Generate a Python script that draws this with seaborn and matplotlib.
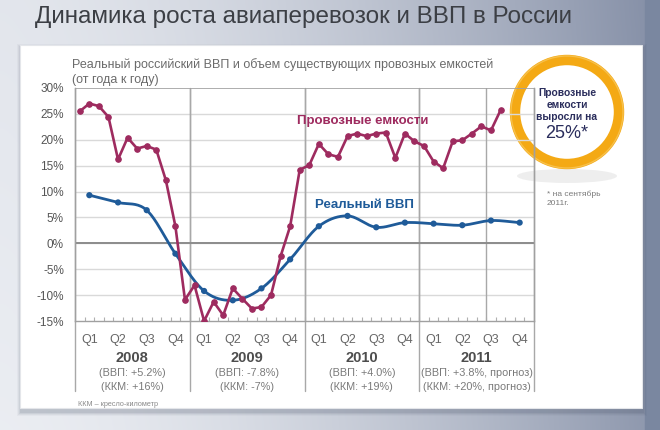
import numpy as np
import pandas as pd
import matplotlib
matplotlib.use("Agg")
import matplotlib.pyplot as plt
import seaborn as sns
from matplotlib.patches import Rectangle, Circle, Ellipse

# ---------------- data ----------------
years = ["2008", "2009", "2010", "2011"]
quarters = ["Q1", "Q2", "Q3", "Q4"]
gdp_notes = ["(ВВП: +5.2%)", "(ВВП: -7.8%)", "(ВВП: +4.0%)", "(ВВП: +3.8%, прогноз)"]
kkm_notes = ["(ККМ: +16%)", "(ККМ: -7%)", "(ККМ: +19%)", "(ККМ: +20%, прогноз)"]

# monthly capacity growth, Jan 2008 .. Sep 2011 (%)
capacity = [25.5, 27.0, 26.5, 24.4, 16.2, 20.4, 18.3, 18.8, 18.1, 12.2, 3.3, -10.9,
            -8.1, -15.0, -11.3, -13.9, -8.7, -10.7, -12.6, -12.3, -10.0, -2.5, 3.3, 14.2,
            15.1, 19.2, 17.2, 16.7, 20.7, 21.2, 20.7, 21.2, 21.4, 16.5, 21.2, 19.7,
            18.8, 15.8, 14.5, 19.7, 19.9, 21.2, 22.6, 21.8, 25.7]
# quarterly real GDP growth, 2008Q1 .. 2011Q4 (%)
gdp = [9.3, 7.9, 6.4, -2.0,
       -9.2, -11.0, -8.7, -3.1,
       3.3, 5.3, 3.1, 4.0,
       3.8, 3.5, 4.4, 4.0]

cap_label = "Провозные емкости"
gdp_label = "Реальный ВВП"
title = "Динамика роста авиаперевозок и ВВП в России"
subtitle = "Реальный российский ВВП и объем существующих провозных емкостей\n(от года к году)"
callout = "Провозные\nемкости\nвыросли на"
callout_big = "25%*"
callout_note = "* на сентябрь\n2011г."
footnote = "ККМ – кресло-километр"

PURPLE = "#9e2b5f"
BLUE = "#1f5b99"

# ---------------- helpers ----------------
def catmull_rom(x, y, n=20):
    x = np.asarray(x, float); y = np.asarray(y, float)
    px = np.concatenate([[2 * x[0] - x[1]], x, [2 * x[-1] - x[-2]]])
    py = np.concatenate([[2 * y[0] - y[1]], y, [2 * y[-1] - y[-2]]])
    xs, ys = [], []
    t = np.linspace(0, 1, n, endpoint=False)
    for i in range(1, len(px) - 2):
        p0, p1, p2, p3 = (np.array([px[j], py[j]]) for j in range(i - 1, i + 3))
        for tt in t:
            pt = 0.5 * ((2 * p1) + (-p0 + p2) * tt + (2 * p0 - 5 * p1 + 4 * p2 - p3) * tt ** 2
                        + (-p0 + 3 * p1 - 3 * p2 + p3) * tt ** 3)
            xs.append(pt[0]); ys.append(pt[1])
    xs.append(x[-1]); ys.append(y[-1])
    return np.array(xs), np.array(ys)

# ---------------- figure ----------------
sns.set_theme(style="white")
plt.rcParams["font.family"] = ["Liberation Sans", "DejaVu Sans"]

W, H = 660, 430
fig = plt.figure(figsize=(6.6, 4.3), dpi=100)

# background gradient
bg = fig.add_axes([0, 0, 1, 1], zorder=-10)
gx = np.linspace(0, 1, 300)
gy = np.linspace(0, 1, 200)
GX, GY = np.meshgrid(gx, gy)
c0 = np.array([0.92, 0.93, 0.95])
c1 = np.array([0.53, 0.57, 0.66])
tmix = np.clip(GX ** 1.6 * 0.95 + GY * 0.08, 0, 1)[..., None]
img = c0 * (1 - tmix) + c1 * tmix
bg.imshow(img, extent=[0, W, 0, H], aspect="auto", origin="upper")
bg.set_xlim(0, W); bg.set_ylim(H, 0)
bg.axis("off")

# right dark strip
bg.add_patch(Rectangle((645, 0), 15, H, color="#7a87a0", zorder=1))

# white panel with shadow
for k, a in enumerate([0.10, 0.08, 0.06, 0.04]):
    bg.add_patch(Rectangle((20 - k, 45 + 2 - k), 622 + 2 * k + 2, 363 + 2 * k + 3,
                           facecolor="#404a60", alpha=a, edgecolor="none", zorder=2))
bg.add_patch(Rectangle((20, 45), 622, 363, facecolor="white", edgecolor="#e4e6ea", lw=0.8, zorder=3))

# title
bg.text(35, 17, title, fontsize=17.5, color="#3c3f45", va="center", ha="left", zorder=5)

# subtitle
bg.text(72, 72, subtitle, fontsize=9.0, color="#6b6b6b", va="center", ha="left",
        linespacing=1.25, zorder=5)

# footnote
bg.text(78, 404, footnote, fontsize=5.2, color="#8a8a8a", va="center", ha="left", zorder=5)

# callout circle
bg.add_patch(Ellipse((567, 176), 100, 14, facecolor="#9a9a9a", alpha=0.16, edgecolor="none", zorder=4))
bg.add_patch(Circle((567, 112), 52, facecolor="white", edgecolor="#f4a914", lw=7.5, zorder=5))
bg.add_patch(Circle((567, 112), 56, facecolor="none", edgecolor="#f7c04a", lw=1.0, zorder=5))
bg.text(567, 105, callout, fontsize=7.4, color="#2a2d5c", ha="center", va="center",
        linespacing=1.28, fontweight="bold", zorder=6)
bg.text(567, 134, callout_big, fontsize=13, color="#2a2d5c", ha="center", va="center", zorder=6)
bg.text(547, 199, callout_note, fontsize=6.0, color="#7a7a7a", ha="left", va="center",
        linespacing=1.3, zorder=6)

# ---------------- main axes ----------------
left, right, top, bottom = 75, 534, 88, 321
ax = fig.add_axes([left / W, 1 - bottom / H, (right - left) / W, (bottom - top) / H], zorder=5)
ax.set_facecolor("none")

months_x = np.arange(len(capacity)) + 0.5
df_cap = pd.DataFrame({"x": months_x, "v": capacity})
gdp_x = np.arange(len(gdp)) * 3 + 1.5
df_gdp = pd.DataFrame({"x": gdp_x, "v": gdp})
sx, sy = catmull_rom(gdp_x, gdp)
df_gdp_s = pd.DataFrame({"x": sx, "v": sy})

ax.set_xlim(0, 48)
ax.set_ylim(-15, 30)

# grid
for v in range(-10, 30, 5):
    ax.axhline(v, color="#d9d9d9", lw=1.0, zorder=1)
ax.axhline(0, color="#8c8c8c", lw=1.4, zorder=2)
ax.axhline(30, color="#a0a0a0", lw=1.2, zorder=2)
for xv in [12, 24, 36, 43]:
    ax.axvline(xv, color="#a8a8a8", lw=1.0, zorder=1)

# vertical separators extending below
trans = ax.get_xaxis_transform()
for xv in [0, 12, 24, 36, 48]:
    ax.plot([xv, xv], [-0.30, 1.0], transform=trans, color="#a8a8a8", lw=1.0,
            clip_on=False, zorder=1)

sns.lineplot(data=df_gdp_s, x="x", y="v", ax=ax, color=BLUE, lw=2.0, zorder=4,
             estimator=None, sort=False)
sns.scatterplot(data=df_gdp, x="x", y="v", ax=ax, color=BLUE, s=20, edgecolor="none", zorder=5)
sns.lineplot(data=df_cap, x="x", y="v", ax=ax, color=PURPLE, lw=1.9, marker="o",
             markersize=4, markeredgecolor=PURPLE, zorder=6, estimator=None)

ax.text(30.1, 23.6, cap_label, color=PURPLE, fontsize=9.5, fontweight="bold",
        ha="center", va="center", zorder=7)
ax.text(30.3, 7.4, gdp_label, color=BLUE, fontsize=9.5, fontweight="bold",
        ha="center", va="center", zorder=7)

# axes styling
ax.spines["top"].set_visible(False)
for s in ["left", "right", "bottom"]:
    ax.spines[s].set_color("#a0a0a0")
    ax.spines[s].set_linewidth(1.0)
ax.set_xlabel(""); ax.set_ylabel("")

yt = list(range(-15, 31, 5))
ax.set_yticks(yt)
ax.set_yticklabels([f"{v}%" for v in yt], fontsize=8.5, color="#555555")
ax.tick_params(axis="y", length=0, pad=8)

qx = [i * 3 + 1.5 for i in range(16)]
ax.set_xticks(qx)
ax.set_xticklabels(quarters * 4, fontsize=9, color="#666666")
ax.set_xticks(np.arange(1, 48), minor=True)
ax.tick_params(axis="x", which="major", length=0, pad=9)
ax.tick_params(axis="x", which="minor", direction="in", length=3, color="#b0b0b0", width=0.8, bottom=True)

# year labels and notes below
for i, yname in enumerate(years):
    xc = i * 12 + 6
    ax.text(xc, -0.158, yname, transform=trans, ha="center", va="center",
            fontsize=10.5, fontweight="bold", color="#4d4d4d", clip_on=False)
    ax.text(xc, -0.224, gdp_notes[i], transform=trans, ha="center", va="center",
            fontsize=7.8, color="#7a7a7a", clip_on=False)
    ax.text(xc, -0.284, kkm_notes[i], transform=trans, ha="center", va="center",
            fontsize=7.8, color="#7a7a7a", clip_on=False)

fig.savefig("out.png", dpi=100)
